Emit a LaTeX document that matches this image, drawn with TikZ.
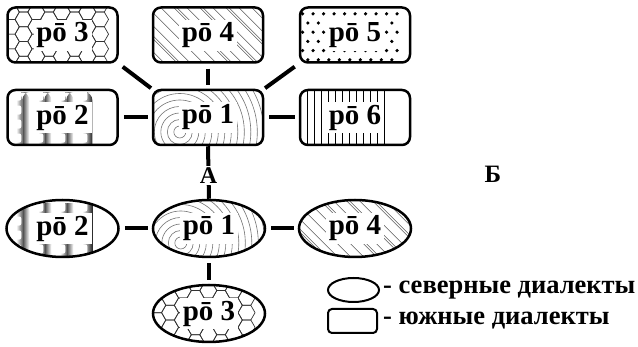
\documentclass[tikz,border=0pt]{standalone}
\usepackage{fontspec}
\setmainfont{Liberation Serif}
\usetikzlibrary{shapes.geometric}
\newcommand\lbl{\fontsize{29}{32}\selectfont\bfseries}
\newcommand\legf{\fontsize{26.5}{30}\selectfont\bfseries}
\newcommand\halobox{\fill[white,rounded corners=5pt,sharp corners] ([shift={(-29,-15)}]path picture bounding box.center) rectangle ([shift={(29,16)}]path picture bounding box.center);}
\newcommand\myhexfill{\begin{scope}[shift={(path picture bounding box.center)}]
 \foreach \i in {-5,...,5}{\foreach \j in {-3,...,3}{
  \pgfmathsetmacro\hxa{12.75*\i}
  \pgfmathsetmacro\hya{14.72*\j+7.36*mod(abs(\i),2)}
  \draw[hexline] (\hxa+8.5,\hya) -- (\hxa+4.25,\hya+7.36) -- (\hxa-4.25,\hya+7.36) -- (\hxa-8.5,\hya) -- (\hxa-4.25,\hya-7.36) -- (\hxa+4.25,\hya-7.36) -- cycle;}}
 \end{scope}}
\newcommand\myringfill{\begin{scope}[shift={(path picture bounding box.center)}]
 \foreach \r in {6,12.5,...,85}{\draw[ringline] (-2,8) circle (\r);}
 \end{scope}}
\newcommand\mydiagfill{\begin{scope}[shift={(path picture bounding box.center)}]
 \foreach \d in {-104,-91,...,110}{\draw[diagline] (\d-40,-40) -- (\d+40,40);}
 \foreach \d in {-65,-26,26,52,78}{\draw[diagline] (\d-37,-40) -- (\d+43,40);}
 \end{scope}}
\newcommand\mydotsfill{\begin{scope}[shift={(path picture bounding box.center)}]
 \foreach \i in {-6,...,6}{\foreach \j in {-3,...,3}{
  \pgfmathsetmacro\ddx{10.5*\i+5.25*mod(abs(\j),2)}
  \fill[black] (\ddx,9.2*\j) circle (1.8);}}
 \end{scope}}
\newcommand\myvlinefill{\begin{scope}[shift={(path picture bounding box.center)}]
 \foreach \x in {-56,-49,...,57}{\draw[vline] (\x,-40) -- (\x,40);}
 \end{scope}}
\newcommand\mypuzzlefill{\begin{scope}[shift={(path picture bounding box.center)}]
 \shade[left color=black!85,right color=white] (-56,-32) rectangle (-46,32);
 \shade[left color=white,right color=black!85] (46,-32) rectangle (56,32);
 \foreach \x in {-36,-14,8,30}{\shade[left color=black!75,right color=white] (\x,-32) rectangle (\x+7,32);
   \shade[left color=white,right color=black!60] (\x-6,-32) rectangle (\x,32);}
 \foreach \i in {-2,...,2}{\foreach \j in {-2,...,2}{
  \fill[white,rounded corners=2pt] (\i*22-7,\j*14-4.5) rectangle (\i*22+7,\j*14+4.5);}}
 \end{scope}}
\tikzset{
 x=1pt,y=-1pt,
 hexline/.style={line width=0.7pt,sharp corners,black!80},
 ringline/.style={line width=0.6pt,sharp corners,black!55},
 diagline/.style={line width=0.55pt,sharp corners,black!65},
 vline/.style={line width=0.8pt,sharp corners,black},
 rbox/.style={draw,line width=2.5pt,rounded corners=8pt,minimum width=110pt,minimum height=55pt,inner sep=0pt,font=\lbl},
 ebox/.style={draw,ellipse,line width=2.5pt,minimum width=112pt,minimum height=57pt,inner sep=0pt,font=\lbl},
 patt/.style={path picture={#1\halobox}},
 conn/.style={line width=4pt,shorten <=5pt,shorten >=4pt},
 legtext/.style={font=\legf,anchor=west,inner sep=0pt},
}
\begin{document}
\begin{tikzpicture}
\useasboundingbox (0,0) rectangle (638,347);
% southern (rectangles)
\node[rbox,patt={\myhexfill}] (r3) at (62.5,35) {pō 3};
\node[rbox,patt={\mydiagfill}] (r4) at (208,35) {pō 4};
\node[rbox,patt={\mydotsfill}] (r5) at (355,35) {pō 5};
\node[rbox,patt={\mypuzzlefill}] (r2) at (62.5,117.5) {pō 2};
\node[rbox,patt={\myringfill}] (r1) at (208,117.5) {pō 1};
\node[rbox,patt={\myvlinefill}] (r6) at (355,117.5) {pō 6};
% northern (ellipses)
\node[ebox,patt={\mypuzzlefill}] (e2) at (62.5,228.5) {pō 2};
\node[ebox,patt={\myringfill}] (e1) at (209,228.5) {pō 1};
\node[ebox,patt={\mydiagfill}] (e4) at (355,228.5) {pō 4};
\node[ebox,patt={\myhexfill}] (e3) at (209,313.5) {pō 3};
% connectors
\draw[conn,shorten >=1pt] (r3.south east) -- (r1.north west);
\draw[conn,shorten >=1pt] (r5.south west) -- (r1.north east);
\draw[conn] (r4.south) -- (r1.north);
\draw[conn] (r2.east) -- (r1.west);
\draw[conn] (r1.east) -- (r6.west);
\draw[line width=4pt] (r1.south) -- (e1.north) node[pos=0.55,fill=white,inner sep=1.5pt,font=\fontsize{24}{26}\selectfont\bfseries] (lblA) {А};
\draw[conn] (e2.east) -- (e1.west);
\draw[conn] (e1.east) -- (e4.west);
\draw[conn] (e1.south) -- (e3.north);
\node[font=\fontsize{25}{28}\selectfont\bfseries] (lblB) at (493,174) {Б};
% legend
\node[draw,ellipse,line width=2pt,minimum width=51pt,minimum height=24pt,inner sep=0pt] (leg1) at (353.5,290) {};
\node[legtext] (legt1) at (383,290) {- северные диалекты};
\node[draw,line width=2pt,rounded corners=4pt,minimum width=49pt,minimum height=24pt,inner sep=0pt] (leg2) at (352.5,321) {};
\node[legtext] (legt2) at (383,321) {- южные диалекты};
\end{tikzpicture}
\end{document}
